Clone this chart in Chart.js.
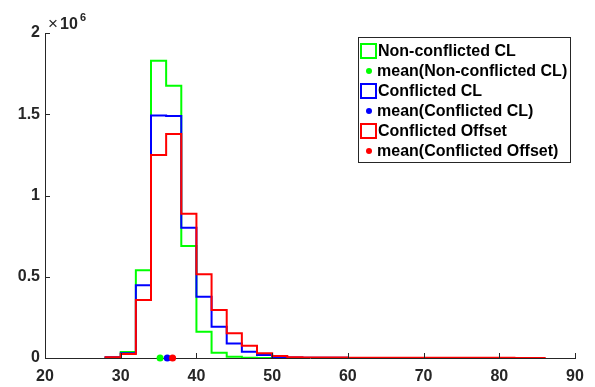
<!DOCTYPE html>
<html>
<head>
<meta charset="utf-8">
<script src="https://cdn.jsdelivr.net/npm/chart.js@4"></script>
<style>
  body { margin: 0; background: #fff; }
</style>
</head>
<body>
<canvas id="histChart" width="595" height="387"></canvas>
<script>
// bin edges (width 2) and counts per bin
const binEdges = [28, 30, 32, 34, 36, 38, 40, 42, 44, 46, 48, 50, 52, 54, 56, 58,
                  60, 62, 64, 66, 68, 70, 72, 74, 76, 78, 80, 82, 84, 86];
const nonConflictedCL = [2000, 37000, 540000, 1830000, 1676000, 689000, 162000, 33000, 8000, 2000,
                         600, 200, 100, 0, 0, 0, 0, 0, 0, 0, 0, 0, 0, 0, 0, 0, 0, 0, 0];
const conflictedCL = [4000, 30000, 447000, 1493000, 1489000, 802000, 377000, 193000, 90000, 39000,
                      18000, 6000, 3000, 1500, 1000, 800, 600, 500, 400, 300, 300, 200, 200, 200, 100, 100, 100, 0, 0];
const conflictedOffset = [5000, 25000, 357000, 1249000, 1378000, 888000, 515000, 295000, 152000, 76000,
                          29000, 12000, 5000, 3500, 3000, 2500, 2200, 2000, 1800, 1600, 1500, 1400, 1300, 1200,
                          1000, 900, 800, 700, 600];
const seriesNames = ['Non-conflicted CL', 'Conflicted CL', 'Conflicted Offset'];
const seriesColors = ['#00ff00', '#0000ff', '#ff0000'];
const meanValues = [35.2, 36.15, 36.85];
const xTicks = [20, 30, 40, 50, 60, 70, 80, 90];
const yTicks = [0, 500000, 1000000, 1500000, 2000000];

const tickFont = { family: '"Liberation Sans", Arial, sans-serif', size: 16, weight: 'bold' };

function stairs(values) {
    const pts = [{ x: binEdges[0], y: 0 }];
    for (let i = 0; i < values.length; i++) {
        pts.push({ x: binEdges[i], y: values[i] });
    }
    pts.push({ x: binEdges[binEdges.length - 1], y: 0 });
    return pts;
}

const allSeries = [nonConflictedCL, conflictedCL, conflictedOffset];
const datasets = [];
allSeries.forEach((vals, i) => {
    datasets.push({
        label: seriesNames[i],
        data: stairs(vals),
        stepped: 'before',
        borderColor: seriesColors[i],
        borderWidth: 2,
        pointRadius: 0,
        fill: false,
        order: 6 - i
    });
});
meanValues.forEach((m, i) => {
    datasets.push({
        label: 'mean(' + seriesNames[i] + ')',
        data: [{ x: m, y: 0 }],
        showLine: false,
        pointRadius: 3.5,
        pointBackgroundColor: seriesColors[i],
        pointBorderWidth: 0,
        clip: false,
        order: 3 - i
    });
});

// inward ticks, exponent label and MATLAB style legend
const extras = {
    id: 'extras',
    afterDraw(chart) {
        const ctx = chart.ctx;
        const a = chart.chartArea;
        const xs = chart.scales.x, ys = chart.scales.y;
        ctx.save();
        ctx.strokeStyle = '#262626';
        ctx.lineWidth = 1;
        ctx.beginPath();
        xTicks.forEach(v => {
            const px = Math.round(xs.getPixelForValue(v)) + 0.5;
            ctx.moveTo(px, a.bottom);
            ctx.lineTo(px, a.bottom - 5);
        });
        yTicks.forEach(v => {
            const py = Math.round(ys.getPixelForValue(v)) + 0.5;
            ctx.moveTo(a.left, py);
            ctx.lineTo(a.left + 5, py);
        });
        ctx.stroke();

        ctx.fillStyle = '#262626';
        ctx.textBaseline = 'alphabetic';
        ctx.font = '17px "Liberation Sans", Arial, sans-serif';
        ctx.fillText('\u00d7', 48, 29);
        ctx.font = 'bold 16px "Liberation Sans", Arial, sans-serif';
        ctx.fillText('10', 60, 29);
        ctx.font = 'bold 11px "Liberation Sans", Arial, sans-serif';
        ctx.fillText('6', 80, 21);

        // legend
        const lx = 358.5, ly = 37.5, lw = 212, lh = 125;
        ctx.fillStyle = '#ffffff';
        ctx.fillRect(lx, ly, lw, lh);
        ctx.strokeStyle = '#262626';
        ctx.strokeRect(lx, ly, lw, lh);
        ctx.font = 'bold 16px "Liberation Sans", Arial, sans-serif';
        ctx.textBaseline = 'middle';
        for (let i = 0; i < 3; i++) {
            const y1 = 51 + i * 40, y2 = y1 + 20;
            ctx.strokeStyle = seriesColors[i];
            ctx.lineWidth = 2;
            ctx.strokeRect(361, y1 - 7, 15, 14);
            ctx.fillStyle = '#000';
            ctx.fillText(seriesNames[i], 378, y1 + 1);
            ctx.fillStyle = seriesColors[i];
            ctx.beginPath();
            ctx.arc(369, y2, 3, 0, Math.PI * 2);
            ctx.fill();
            ctx.fillStyle = '#000';
            ctx.fillText('mean(' + seriesNames[i] + ')', 377, y2 + 1);
        }
        ctx.restore();
    }
};

new Chart(document.getElementById('histChart'), {
    type: 'line',
    data: { datasets: datasets },
    options: {
        responsive: false,
        animation: false,
        devicePixelRatio: 1,
        layout: { padding: { top: 33, right: 20, left: 0, bottom: 0 } },
        plugins: {
            legend: { display: false },
            tooltip: { enabled: false }
        },
        scales: {
            x: {
                type: 'linear',
                min: 20,
                max: 90,
                afterBuildTicks: s => { s.ticks = xTicks.map(v => ({ value: v })); },
                afterFit: s => { s.height = 29; },
                grid: { display: false, drawTicks: false },
                border: { display: true, color: '#262626', width: 1 },
                ticks: { font: tickFont, color: '#262626', padding: 9, maxRotation: 0 }
            },
            y: {
                type: 'linear',
                min: 0,
                max: 2000000,
                afterBuildTicks: s => { s.ticks = yTicks.map(v => ({ value: v })); },
                afterFit: s => { s.width = 45; },
                grid: { display: false, drawTicks: false },
                border: { display: true, color: '#262626', width: 1 },
                ticks: {
                    font: tickFont,
                    color: '#262626',
                    padding: 5,
                    callback: v => String(v / 1000000)
                }
            }
        }
    },
    plugins: [extras]
});
</script>
</body>
</html>
